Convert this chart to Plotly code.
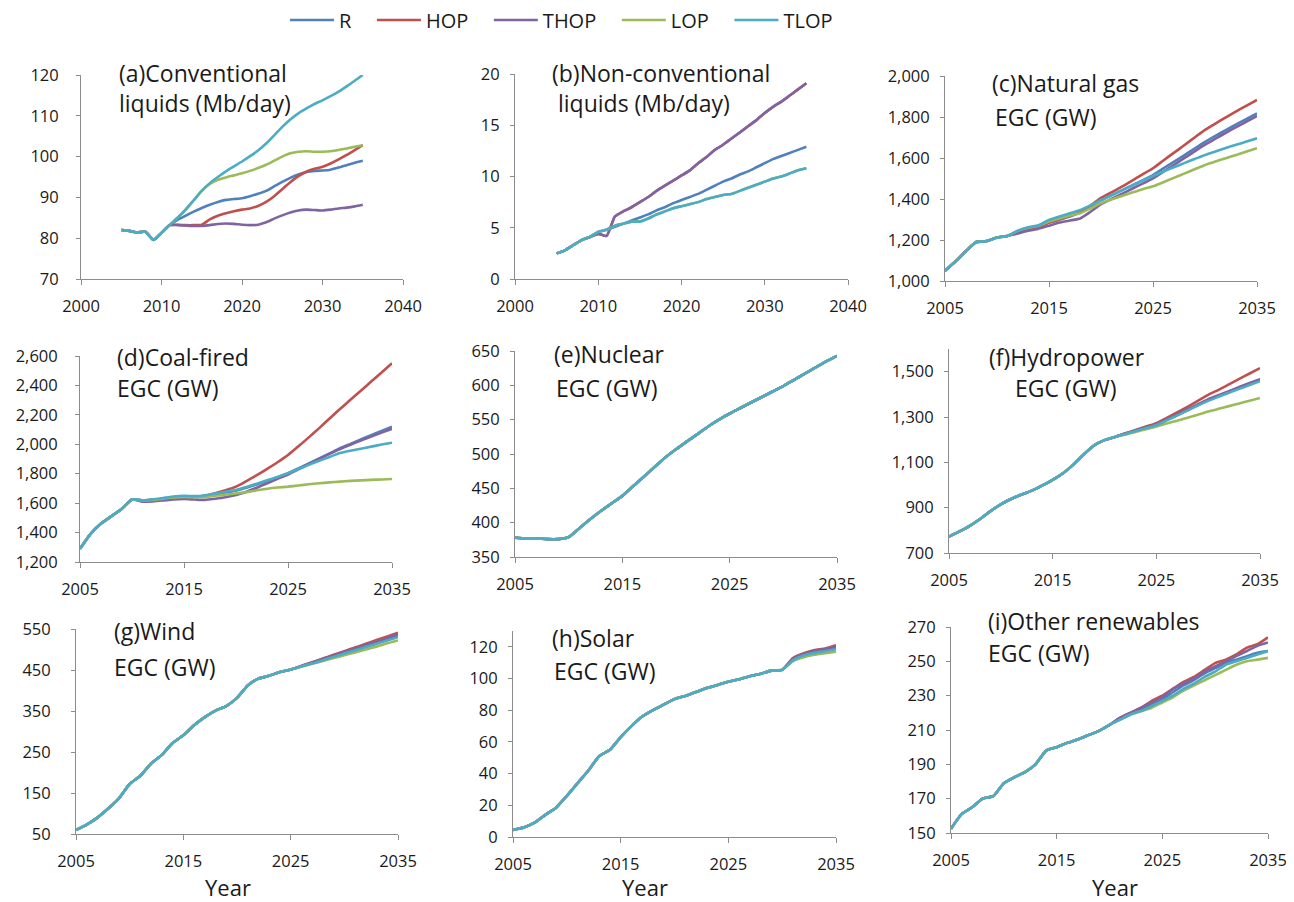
import plotly.graph_objects as go

# ---------------- data ----------------
scenarios = ["R", "HOP", "THOP", "LOP", "TLOP"]
colors = {"R": "#4F81BD", "HOP": "#C0504D", "THOP": "#8064A2", "LOP": "#9BBB59", "TLOP": "#4BACC6"}

# (a) Conventional liquids (Mb/day); history 2005-2011, projections 2012-2035
a_hist = [82.0, 81.8, 81.4, 81.6, 79.6, 81.3, 83.2]
a_R = [84.5, 85.5, 86.5, 87.4, 88.2, 88.9, 89.4, 89.6, 89.8, 90.3, 90.9, 91.6, 92.7, 93.8, 94.8, 95.6, 96.2, 96.5, 96.6, 96.8, 97.3, 97.9, 98.5, 99.0]
a_HOP = [83.3, 83.2, 83.2, 83.3, 84.6, 85.5, 86.1, 86.6, 87.0, 87.3, 87.9, 88.9, 90.3, 92.0, 93.7, 95.2, 96.3, 97.0, 97.5, 98.3, 99.3, 100.4, 101.6, 102.8]
a_THOP = [83.2, 83.1, 83.0, 83.0, 83.2, 83.5, 83.6, 83.5, 83.3, 83.2, 83.3, 83.9, 84.8, 85.6, 86.3, 86.8, 87.0, 86.9, 86.8, 87.0, 87.3, 87.5, 87.8, 88.2]
a_LOP = [85.0, 87.0, 89.3, 91.6, 93.3, 94.3, 94.9, 95.4, 95.9, 96.5, 97.2, 98.0, 99.0, 100.0, 100.8, 101.2, 101.3, 101.2, 101.2, 101.3, 101.6, 102.0, 102.4, 102.8]
a_TLOP = [85.0, 87.0, 89.3, 91.6, 93.5, 95.0, 96.4, 97.6, 98.8, 100.1, 101.5, 103.2, 105.2, 107.3, 109.1, 110.6, 111.8, 112.9, 113.8, 114.8, 115.9, 117.2, 118.6, 120.0]

# (b) Non-conventional liquids (Mb/day); history 2005-2009, projections 2010-2035
b_hist = [2.5, 2.8, 3.3, 3.8, 4.1]
b_R = [4.6, 4.8, 5.1, 5.4, 5.7, 6.0, 6.3, 6.7, 7.0, 7.4, 7.7, 8.0, 8.3, 8.7, 9.1, 9.5, 9.8, 10.2, 10.5, 10.9, 11.3, 11.7, 12.0, 12.3, 12.6, 12.9]
b_HOP = [4.4, 4.2, 6.1, 6.6, 7.0, 7.5, 8.0, 8.6, 9.1, 9.6, 10.1, 10.6, 11.3, 11.9, 12.6, 13.1, 13.7, 14.3, 14.9, 15.5, 16.2, 16.8, 17.3, 17.9, 18.5, 19.1]
b_THOP = [4.4, 4.2, 6.1, 6.6, 7.0, 7.5, 8.0, 8.6, 9.1, 9.6, 10.1, 10.6, 11.3, 11.9, 12.6, 13.1, 13.7, 14.3, 14.9, 15.5, 16.2, 16.8, 17.3, 17.9, 18.5, 19.1]
b_LOP = [4.6, 4.8, 5.2, 5.4, 5.6, 5.6, 5.9, 6.3, 6.6, 6.9, 7.1, 7.3, 7.5, 7.8, 8.0, 8.2, 8.3, 8.6, 8.9, 9.2, 9.5, 9.8, 10.0, 10.3, 10.6, 10.8]
b_TLOP = [4.6, 4.8, 5.2, 5.4, 5.6, 5.6, 5.9, 6.3, 6.6, 6.9, 7.1, 7.3, 7.5, 7.8, 8.0, 8.2, 8.3, 8.6, 8.9, 9.2, 9.5, 9.8, 10.0, 10.3, 10.6, 10.8]

# (c) Natural gas EGC (GW); history 2005-2011, projections 2012-2035
c_hist = [1050, 1095, 1145, 1190, 1195, 1212, 1220]
c_R = [1240, 1255, 1265, 1285, 1300, 1315, 1335, 1365, 1395, 1418, 1442, 1466, 1491, 1517, 1549, 1581, 1613, 1646, 1679, 1708, 1736, 1764, 1791, 1818]
c_HOP = [1238, 1252, 1262, 1285, 1300, 1318, 1335, 1368, 1405, 1432, 1460, 1490, 1520, 1550, 1588, 1625, 1662, 1700, 1737, 1768, 1798, 1828, 1856, 1883]
c_THOP = [1232, 1245, 1255, 1270, 1285, 1295, 1305, 1338, 1375, 1400, 1425, 1450, 1475, 1501, 1533, 1566, 1599, 1632, 1665, 1694, 1723, 1751, 1778, 1805]
c_LOP = [1245, 1260, 1270, 1290, 1305, 1320, 1330, 1355, 1380, 1398, 1415, 1432, 1448, 1462, 1482, 1503, 1524, 1545, 1566, 1583, 1599, 1615, 1632, 1648]
c_TLOP = [1245, 1262, 1272, 1298, 1315, 1330, 1346, 1370, 1395, 1418, 1442, 1466, 1490, 1512, 1534, 1555, 1575, 1595, 1615, 1632, 1649, 1665, 1680, 1696]

# (d) Coal-fired EGC (GW); history 2005-2010, projections 2011-2035
d_hist = [1290, 1390, 1460, 1510, 1560, 1625]
d_R = [1618, 1622, 1630, 1640, 1645, 1645, 1650, 1660, 1672, 1685, 1705, 1727, 1752, 1777, 1803, 1836, 1870, 1904, 1938, 1973, 2003, 2033, 2062, 2091, 2120]
d_HOP = [1618, 1622, 1630, 1640, 1645, 1643, 1650, 1668, 1688, 1712, 1750, 1790, 1833, 1878, 1927, 1986, 2047, 2110, 2175, 2240, 2302, 2364, 2426, 2488, 2551]
d_THOP = [1610, 1612, 1618, 1625, 1628, 1625, 1622, 1630, 1640, 1655, 1678, 1705, 1735, 1765, 1795, 1830, 1865, 1900, 1935, 1968, 1997, 2025, 2052, 2079, 2105]
d_LOP = [1618, 1622, 1630, 1638, 1642, 1640, 1642, 1650, 1658, 1665, 1675, 1687, 1698, 1706, 1712, 1720, 1728, 1735, 1741, 1746, 1751, 1755, 1758, 1761, 1764]
d_TLOP = [1620, 1625, 1635, 1645, 1650, 1648, 1652, 1665, 1677, 1690, 1710, 1732, 1755, 1778, 1803, 1832, 1860, 1888, 1914, 1940, 1956, 1970, 1984, 1998, 2011]

# (e) Nuclear EGC (GW); identical in all scenarios, 2005-2035
e_all = [378, 377, 377, 376, 376, 379, 392, 405, 417, 428, 439, 453, 467, 481, 495, 507, 518, 529, 540, 550, 559, 567, 575, 583, 591, 599, 608, 617, 626, 635, 643]

# (f) Hydropower EGC (GW); history 2005-2021, projections 2022-2035
f_hist = [772, 795, 820, 850, 885, 915, 938, 958, 975, 998, 1023, 1052, 1090, 1135, 1175, 1198, 1212]
f_R = [1226, 1239, 1252, 1265, 1287, 1309, 1331, 1354, 1376, 1394, 1412, 1430, 1448, 1465]
f_HOP = [1228, 1243, 1258, 1273, 1296, 1320, 1345, 1371, 1398, 1420, 1444, 1468, 1492, 1516]
f_THOP = [1226, 1240, 1253, 1267, 1289, 1311, 1333, 1356, 1378, 1396, 1414, 1432, 1450, 1467]
f_LOP = [1222, 1234, 1246, 1258, 1271, 1284, 1297, 1310, 1324, 1336, 1348, 1360, 1372, 1384]
f_TLOP = [1225, 1238, 1251, 1264, 1285, 1306, 1328, 1350, 1371, 1389, 1407, 1424, 1441, 1458]

# (g) Wind EGC (GW); history 2005-2025, projections 2026-2035
g_hist = [60, 73, 90, 112, 137, 172, 192, 222, 243, 272, 291, 315, 335, 351, 362, 382, 412, 429, 436, 445, 451]
g_R = [459, 467, 475, 483, 491, 499, 507, 515, 524, 533]
g_HOP = [460, 469, 478, 487, 496, 505, 514, 523, 532, 541]
g_THOP = [460, 468, 477, 485, 494, 502, 511, 519, 528, 537]
g_LOP = [458, 465, 472, 479, 486, 493, 500, 507, 515, 522]
g_TLOP = [459, 466, 474, 482, 490, 498, 506, 514, 522, 530]

# (h) Solar EGC (GW); history 2005-2030, projections 2031-2035
h_hist = [4.5, 6, 9, 14, 18.5, 26, 34, 42, 51, 55, 63, 70, 76, 80, 83.5, 87, 89, 91.5, 94, 96, 98, 99.5, 101.5, 103, 105, 105.5]
h_R = [112, 115, 116.8, 117.8, 119]
h_HOP = [113, 116, 118, 119, 121]
h_THOP = [112.5, 115.5, 117.5, 118.5, 120]
h_LOP = [111, 113.5, 115, 116, 117]
h_TLOP = [111.5, 114.5, 116.2, 117.2, 118.5]

# (i) Other renewables EGC (GW); history 2005-2019, projections 2020-2035
i_hist = [152.5, 161, 165, 170, 171.5, 179, 182.5, 185.5, 190, 198, 200, 202.5, 204.5, 207, 209.5]
i_R = [213, 217, 220, 222, 225, 228, 232, 236, 239, 243, 246, 249, 251, 253, 255, 256]
i_HOP = [213, 217, 220, 223, 227, 230, 234, 238, 241, 245, 249, 251, 254, 258, 260, 264]
i_THOP = [213, 217, 220, 223, 226, 229, 234, 237, 240, 244, 247, 250, 253, 256, 259, 261]
i_LOP = [213, 216, 219, 221, 223, 226, 229, 233, 236, 239, 242, 245, 248, 250, 251, 252]
i_TLOP = [213, 216, 219, 221, 224, 227, 230, 234, 237, 241, 244, 248, 250, 252, 254, 256]

start_year = 2005

panel_data = {
    "a": (a_hist, {"R": a_R, "HOP": a_HOP, "THOP": a_THOP, "LOP": a_LOP, "TLOP": a_TLOP}),
    "b": (b_hist, {"R": b_R, "HOP": b_HOP, "THOP": b_THOP, "LOP": b_LOP, "TLOP": b_TLOP}),
    "c": (c_hist, {"R": c_R, "HOP": c_HOP, "THOP": c_THOP, "LOP": c_LOP, "TLOP": c_TLOP}),
    "d": (d_hist, {"R": d_R, "HOP": d_HOP, "THOP": d_THOP, "LOP": d_LOP, "TLOP": d_TLOP}),
    "e": ([], {s: e_all for s in scenarios}),
    "f": (f_hist, {"R": f_R, "HOP": f_HOP, "THOP": f_THOP, "LOP": f_LOP, "TLOP": f_TLOP}),
    "g": (g_hist, {"R": g_R, "HOP": g_HOP, "THOP": g_THOP, "LOP": g_LOP, "TLOP": g_TLOP}),
    "h": (h_hist, {"R": h_R, "HOP": h_HOP, "THOP": h_THOP, "LOP": h_LOP, "TLOP": h_TLOP}),
    "i": (i_hist, {"R": i_R, "HOP": i_HOP, "THOP": i_THOP, "LOP": i_LOP, "TLOP": i_TLOP}),
}

# ---------------- layout (screen pixels of the 1294 x 902 window) ----------------
OFF = 8                      # default body margin of the page
W, H = 1294 - OFF, 902 - OFF
FONT = "Open Sans"
TXT = "#1a1a1a"
AXC = "#8c8c8c"
NBSP = "\u00a0"
TICK = 16.5


def px_x(px):
    return (px - OFF) / W


def px_y(py):
    return 1 - (py - OFF) / H


# key: (left, right, top, bottom, xrange, yrange, ytick0, ydtick, ytickformat, ystandoff)
geom = {
    "a": (81, 403, 75, 279, [2000, 2040], [70, 120], 70, 10, "", 14),
    "b": (515, 848, 74, 279, [2000, 2040], [0, 20], 0, 5, "", 7),
    "c": (945, 1257, 76, 281, [2005, 2035], [1000, 2000], 1000, 200, ",d", 7),
    "d": (80, 392, 356, 562, [2005, 2035], [1200, 2600], 1200, 200, ",d", 14),
    "e": (515, 837, 351, 557, [2005, 2035], [350, 650], 350, 50, "", 7),
    "f": (949, 1260, 349, 553, [2005, 2035], [700, 1600], 700, 200, ",d", 7),
    "g": (76, 398, 629, 834, [2005, 2035], [50, 550], 50, 100, "", 17),
    "h": (513, 836, 631, 837, [2005, 2035], [0, 130], 0, 20, "", 7),
    "i": (951, 1268, 627, 833, [2005, 2035], [150, 270], 150, 20, "", 7),
}

titles = {
    "a": [("(a)Conventional<br>liquids (Mb/day)", 117, 88)],
    "b": [("(b)Non-conventional<br> liquids (Mb/day)", 550, 88)],
    "c": [("(c)Natural gas", 990, 83), ("EGC (GW)", 993, 117)],
    "d": [("(d)Coal-fired", 115, 357), ("EGC (GW)", 115, 388)],
    "e": [("(e)Nuclear", 552, 354), ("EGC (GW)", 554, 388)],
    "f": [("(f)Hydropower", 987, 357), ("EGC (GW)", 1013, 388)],
    "g": [("(g)Wind", 112, 631), ("EGC (GW)", 112, 667)],
    "h": [("(h)Solar", 550, 638), ("EGC (GW)", 552, 671)],
    "i": [("(i)Other renewables", 986, 621), ("EGC (GW)", 986, 653)],
}

fig = go.Figure()
layout_axes = {}
annotations = []

for idx, key in enumerate("abcdefghi"):
    n = "" if idx == 0 else str(idx + 1)
    left, right, top, bottom, xr, yr, yt0, ydt, yfmt, ystand = geom[key]
    hist, proj = panel_data[key]
    for s in scenarios:
        vals = list(hist) + list(proj[s])
        yrs = list(range(start_year, start_year + len(vals)))
        fig.add_trace(go.Scatter(
            x=yrs, y=vals, mode="lines", name=s + NBSP * 3,
            line=dict(color=colors[s], width=2.6, shape="spline", smoothing=0.5),
            xaxis="x" + n, yaxis="y" + n,
            showlegend=(key == "a"), legendgroup=s,
        ))
    if key in ("a", "b"):
        xtick = dict(tickmode="linear", tick0=2000, dtick=10)
    else:
        xtick = dict(tickmode="linear", tick0=2005, dtick=10)
    layout_axes["xaxis" + n] = dict(
        domain=[px_x(left), px_x(right)], anchor="y" + n, range=xr, automargin=False,
        showgrid=False, zeroline=False, showline=True, linecolor=AXC, linewidth=1,
        ticks="outside", ticklen=5, tickcolor=AXC, ticklabelstandoff=7,
        ticklabeloverflow="allow",
        tickfont=dict(family=FONT, size=TICK, color=TXT), **xtick,
    )
    layout_axes["yaxis" + n] = dict(
        domain=[px_y(bottom), px_y(top)], anchor="x" + n, range=yr, automargin=False,
        showgrid=False, zeroline=False, showline=True, linecolor=AXC, linewidth=1,
        ticks="outside", ticklen=4, tickcolor=AXC, ticklabelstandoff=ystand,
        ticklabeloverflow="allow",
        tickmode="linear", tick0=yt0, dtick=ydt, tickformat=yfmt,
        tickfont=dict(family=FONT, size=TICK, color=TXT),
    )
    for text, px, py in titles[key]:
        annotations.append(dict(
            text=text, x=px_x(px), y=px_y(py), xref="paper", yref="paper",
            xanchor="left", yanchor="middle", align="left", showarrow=False,
            font=dict(family=FONT, size=23, color=TXT),
        ))

for px in (228, 645, 1115):
    annotations.append(dict(
        text="Year", x=px_x(px), y=px_y(887), xref="paper", yref="paper",
        xanchor="center", yanchor="middle", showarrow=False,
        font=dict(family=FONT, size=22, color=TXT),
    ))

fig.update_layout(
    width=W, height=H,
    margin=dict(l=0, r=0, t=0, b=0, autoexpand=False),
    paper_bgcolor="white", plot_bgcolor="white",
    font=dict(family=FONT, color=TXT),
    showlegend=True,
    legend=dict(
        orientation="h", x=px_x(285), y=px_y(20), xanchor="left", yanchor="middle",
        font=dict(family=FONT, size=20, color=TXT), bgcolor="rgba(0,0,0,0)",
        traceorder="normal", itemwidth=44,
    ),
    annotations=annotations,
    **layout_axes,
)

fig.write_html("out.html")
